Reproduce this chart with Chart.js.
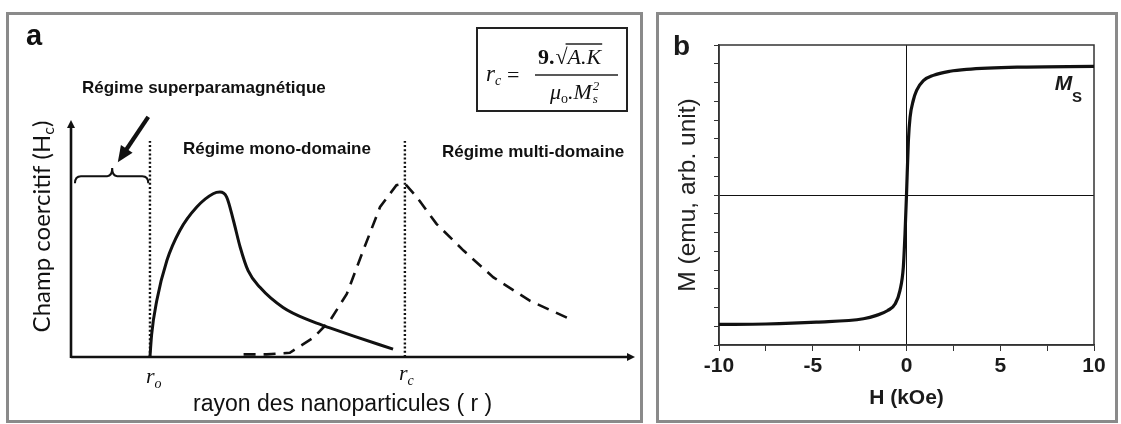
<!DOCTYPE html>
<html><head><meta charset="utf-8">
<script src="https://cdn.jsdelivr.net/npm/chart.js@4"></script>
<style>
html,body{margin:0;padding:0;background:#fff;width:1121px;height:424px;overflow:hidden;position:relative}
#ca{position:absolute;left:0;top:0}
#cb{position:absolute;left:650px;top:0}
.frame{position:absolute;border:3px solid #8a8a8a;box-sizing:border-box}
</style></head><body>
<div class="frame" style="left:6px;top:12px;width:637px;height:411px"></div>
<div class="frame" style="left:656px;top:12px;width:462px;height:411px"></div>
<canvas id="ca" width="650" height="424"></canvas>
<canvas id="cb" width="471" height="424"></canvas>
<script>
// ---------- Panel a data (schematic, arbitrary units 0..100) ----------
const radiusMono = [14.0,14.3,15.2,17.0,19.3,22.3,25.2,26.4,27.6,28.8,30.0,31.4,33.5,37.6,42.4,45.9,50.0,57.1];
const hcMono     = [0,9.6,23.7,40.7,53.4,63.3,68.9,69.6,67.5,57.6,46.3,36.4,29.4,20.9,15.3,12.3,8.9,3.3];
const radiusMulti = [30.6,34.7,38.8,43.0,45.9,48.9,51.8,54.8,57.7,59.2,61.3,64.8,69.6,74.9,81.4,89.1];
const hcMulti     = [1.1,1.1,1.8,8.2,15.3,26.6,44.9,63.3,72.5,73.2,67.5,56.2,44.9,33.6,23.7,15.3];
const r0Value = 14.0;
const rcValue = 59.2;
const regimeLabels = ['Régime superparamagnétique','Régime mono-domaine','Régime multi-domaine'];

// ---------- Panel b data ----------
const fieldKOe = [-10,-7.5,-4.8,-2.3,-1.6,-1.0,-0.6,-0.35,-0.17,-0.08,0,0.1,0.19,0.36,0.54,0.9,1.43,2.32,3.2,5.9,10];
const magnetization = [-3.45,-3.44,-3.39,-3.30,-3.21,-3.08,-2.9,-2.55,-1.93,-1.04,0,1.45,2.07,2.52,2.79,3.05,3.19,3.30,3.35,3.41,3.43];
const fieldTicks = [-10,-5,0,5,10];

const SANS = "'Liberation Sans', Arial, sans-serif";
const SERIF = "'Liberation Serif', 'Times New Roman', serif";

function zip(a,b){return a.map((v,i)=>({x:v,y:b[i]}));}
function runs(ctx,x,y,parts){let cx=x;for(const [t,f,dy] of parts){ctx.font=f;ctx.fillText(t,cx,y+(dy||0));cx+=ctx.measureText(t).width;}return cx;}
function runsW(ctx,parts){let w=0;for(const [t,f] of parts){ctx.font=f;w+=ctx.measureText(t).width;}return w;}
function head(ctx,tx,ty,ang,len,hw){
  ctx.beginPath();
  ctx.moveTo(tx,ty);
  ctx.lineTo(tx-len*Math.cos(ang)+hw*Math.sin(ang), ty-len*Math.sin(ang)-hw*Math.cos(ang));
  ctx.lineTo(tx-len*Math.cos(ang)-hw*Math.sin(ang), ty-len*Math.sin(ang)+hw*Math.cos(ang));
  ctx.closePath(); ctx.fill();
}

const panelA = {
  id:'panelA',
  beforeDatasetsDraw(chart){
    const {ctx,scales:{x,y}} = chart;
    const X=v=>x.getPixelForValue(v), Y=v=>y.getPixelForValue(v);
    ctx.save();
    ctx.strokeStyle='#111'; ctx.fillStyle='#111';
    ctx.lineWidth=2.6;
    ctx.beginPath(); ctx.moveTo(X(0),Y(0)); ctx.lineTo(X(100)-5,Y(0)); ctx.stroke();
    head(ctx,X(100),Y(0),0,8,4);
    ctx.beginPath(); ctx.moveTo(X(0),Y(0)+1); ctx.lineTo(X(0),Y(100)+5); ctx.stroke();
    head(ctx,X(0),Y(100),-Math.PI/2,8,4);
    ctx.lineWidth=2.4; ctx.setLineDash([2,2.2]);
    for(const r of [r0Value,rcValue]){
      ctx.beginPath(); ctx.moveTo(X(r),Y(0)); ctx.lineTo(X(r),Y(91.1)); ctx.stroke();
    }
    ctx.setLineDash([]);
    const bx0=X(0.7), bx1=X(13.7), bm=X(7.3), ye=Y(73.3), yl=Y(76.3), yt=Y(79.7);
    ctx.lineWidth=2;
    ctx.beginPath();
    ctx.moveTo(bx0,ye); ctx.quadraticCurveTo(bx0,yl,bx0+6,yl);
    ctx.lineTo(bm-5,yl); ctx.quadraticCurveTo(bm,yl,bm,yt);
    ctx.quadraticCurveTo(bm,yl,bm+5,yl);
    ctx.lineTo(bx1-6,yl); ctx.quadraticCurveTo(bx1,yl,bx1,ye);
    ctx.stroke();
    const ax0=X(13.7), ay0=Y(101.3), ax1=X(8.3), ay1=Y(82.2);
    const ang=Math.atan2(ay1-ay0,ax1-ax0);
    ctx.lineWidth=4.2;
    ctx.beginPath(); ctx.moveTo(ax0,ay0); ctx.lineTo(ax1-12*Math.cos(ang),ay1-12*Math.sin(ang)); ctx.stroke();
    head(ctx,ax1,ay1,ang,16,7);
    ctx.restore();
  },
  afterDraw(chart){
    const {ctx,scales:{x,y}} = chart;
    const X=v=>x.getPixelForValue(v);
    ctx.save();
    ctx.fillStyle='#111'; ctx.textBaseline='alphabetic';
    ctx.font='bold 29px '+SANS; ctx.fillText('a',26,45);
    ctx.textBaseline='middle';
    ctx.font='bold 17px '+SANS;
    ctx.fillText(regimeLabels[0],82,88);
    ctx.fillText(regimeLabels[1],183,149);
    ctx.fillText(regimeLabels[2],442,152);
    ctx.font='23px '+SANS;
    ctx.fillText('rayon des nanoparticules ( r )',193,405);
    ctx.textBaseline='alphabetic';
    runs(ctx,X(r0Value)-4,383,[['r','italic 22px '+SERIF,0],['o','italic 14px '+SERIF,5]]);
    runs(ctx,X(rcValue)-6,380,[['r','italic 22px '+SERIF,0],['c','italic 14px '+SERIF,5]]);
    const yt=[['Champ coercitif (H','24px Lato, '+SANS,0],['c','16px Lato, '+SANS,4],[')','24px Lato, '+SANS,0]];
    const w=runsW(ctx,yt);
    ctx.translate(50,226.5); ctx.rotate(-Math.PI/2);
    runs(ctx,-w/2,0,yt);
    ctx.setTransform(1,0,0,1,0,0);
    // formula box
    ctx.strokeStyle='#222'; ctx.lineWidth=2;
    ctx.strokeRect(477,28,150,83);
    runs(ctx,486,81,[['r','italic 23px '+SERIF,0],['c','italic 14px '+SERIF,4]]);
    ctx.font='22px '+SERIF; ctx.fillText('=',507,82);
    ctx.lineWidth=1.5; ctx.beginPath(); ctx.moveTo(535,75); ctx.lineTo(618,75); ctx.stroke();
    let cx=runs(ctx,538,64,[['9.','bold 22px '+SERIF,0]]);
    cx=runs(ctx,cx+1,64,[['√','22px '+SERIF,0]]);
    const ak0=cx; cx=runs(ctx,cx,64,[['A.K','italic 22px '+SERIF,0]]);
    ctx.lineWidth=1.3; ctx.beginPath(); ctx.moveTo(ak0-2,44); ctx.lineTo(cx+1,44); ctx.stroke();
    const mEnd=runs(ctx,550,99,[['μ','italic 22px '+SERIF,0],['o','14px '+SERIF,4],['.M','italic 22px '+SERIF,0]]);
    ctx.font='italic 13px '+SERIF;
    ctx.fillText('s',mEnd+1,103); ctx.fillText('2',mEnd+1,90);
    ctx.restore();
  }
};

new Chart(document.getElementById('ca'),{
  type:'scatter',
  data:{datasets:[
    {data:zip(radiusMono,hcMono),showLine:true,borderColor:'#111',borderWidth:3,pointRadius:0,cubicInterpolationMode:'monotone'},
    {data:zip(radiusMulti,hcMulti),showLine:true,borderColor:'#111',borderWidth:2.6,borderDash:[12,8],pointRadius:0,tension:0}
  ]},
  options:{
    responsive:false,animation:false,
    layout:{padding:{left:71,right:15,top:120,bottom:67}},
    scales:{x:{type:'linear',min:0,max:100,display:false},y:{type:'linear',min:0,max:100,display:false}},
    plugins:{legend:{display:false},tooltip:{enabled:false}}
  },
  plugins:[panelA]
});

const panelB = {
  id:'panelB',
  beforeDatasetsDraw(chart){
    const {ctx,chartArea:a} = chart;
    ctx.save(); ctx.strokeStyle='#333'; ctx.lineWidth=1.5;
    ctx.strokeRect(a.left,a.top,a.right-a.left,a.bottom-a.top);
    ctx.restore();
  },
  afterDraw(chart){
    const {ctx,scales:{x,y}} = chart;
    ctx.save(); ctx.fillStyle='#1a1a1a';
    ctx.font='bold 28px '+SANS; ctx.fillText('b',23,55);
    runs(ctx,x.getPixelForValue(7.9),90,[['M','italic bold 21px '+SANS,0],['S','bold 15px '+SANS,12]]);
    ctx.restore();
  }
};

const zeroGrid = c => (c.tick && c.tick.value===0) ? '#111' : 'rgba(0,0,0,0)';
new Chart(document.getElementById('cb'),{
  type:'scatter',
  data:{datasets:[{data:zip(fieldKOe,magnetization),showLine:true,borderColor:'#111',borderWidth:3.2,pointRadius:0,cubicInterpolationMode:'monotone'}]},
  options:{
    responsive:false,animation:false,
    layout:{padding:{left:0,right:27,top:45,bottom:0}},
    scales:{
      x:{type:'linear',min:-10,max:10,position:'bottom',
        afterFit(s){s.height=79;},
        ticks:{stepSize:2.5,autoSkip:false,maxRotation:0,padding:3,color:'#1a1a1a',
          font:{family:SANS,size:21,weight:'bold'},
          callback:v=>fieldTicks.includes(v)?String(v):''},
        grid:{color:zeroGrid,tickColor:'#333',tickLength:6,lineWidth:1},
        border:{display:true,color:'#333',width:1.5},
        title:{display:true,text:'H (kOe)',color:'#1a1a1a',font:{family:SANS,size:21,weight:'bold'},padding:{top:0,bottom:13}}
      },
      y:{type:'linear',min:-4,max:4,position:'left',
        afterFit(s){s.width=69;},
        ticks:{stepSize:0.5,autoSkip:false,callback:()=>''},
        grid:{color:zeroGrid,tickColor:'#333',tickLength:5,lineWidth:1},
        border:{display:true,color:'#333',width:1.5},
        title:{display:true,text:'M (emu, arb. unit)',color:'#222',font:{family:SANS,size:24.5},padding:{top:24,bottom:0}}
      }
    },
    plugins:{legend:{display:false},tooltip:{enabled:false}}
  },
  plugins:[panelB]
});
</script>
</body></html>
